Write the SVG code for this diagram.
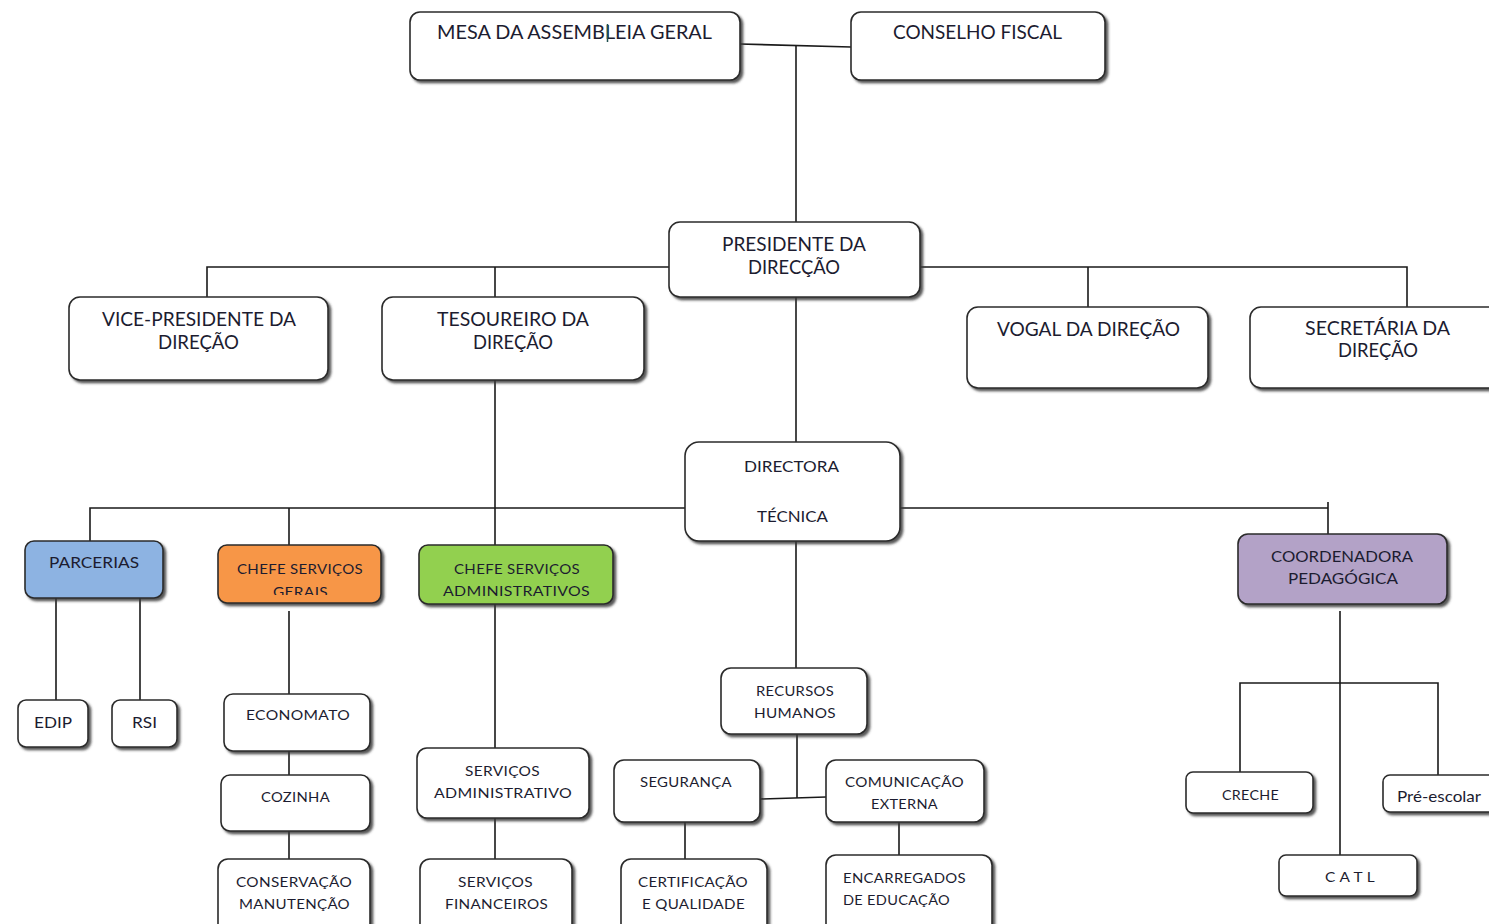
<svg xmlns="http://www.w3.org/2000/svg" width="1489" height="924" viewBox="0 0 1489 924">
<defs>
<filter id="sh" x="-10%" y="-10%" width="125%" height="130%">
<feDropShadow dx="2.5" dy="2.5" stdDeviation="0.9" flood-color="#3a3a3a" flood-opacity="0.85"/>
</filter>
<clipPath id="clipGerais"><rect x="218" y="545" width="164" height="50"/></clipPath>
</defs>
<style>
.box{fill:#ffffff;stroke:#2b2b2b;stroke-width:1.6;filter:url(#sh)}
.sbox{fill:#ffffff;stroke:#2b2b2b;stroke-width:1.6;filter:url(#sh)}
.blue{fill:#8db3e2}
.orange{fill:#f79646}
.green{fill:#92d050}
.purple{fill:#b3a2c7}
.t1{font-family:Lato,"Open Sans","Liberation Sans",sans-serif;font-size:19px;fill:#1c1c30;text-anchor:middle}
.t2{font-family:Lato,"Open Sans","Liberation Sans",sans-serif;font-size:15px;fill:#1c1c30;text-anchor:middle}
.t3{font-family:Lato,"Open Sans","Liberation Sans",sans-serif;font-size:14px;fill:#1c1c30;text-anchor:middle;letter-spacing:0.3px}
.left{text-anchor:start}
.ln{stroke:#1a1a1a;stroke-width:1.6;fill:none}
</style>
<rect width="1489" height="924" fill="#ffffff"/>

<g id="connectors">
<path class="ln" d="M740 44 L851 47" stroke="#555"/>
<path class="ln" d="M796 46 V222"/>
<path class="ln" d="M669 267 H207 V297 M495 267 V297"/>
<path class="ln" d="M920 267 H1407 V307 M1088 267 V307"/>
<path class="ln" d="M796 297 V442"/>
<path class="ln" d="M495 380 V545"/>
<path class="ln" d="M685 508 H90 V541 M289 508 V545"/>
<path class="ln" d="M900 508 H1328 M1328 502 V534"/>
<path class="ln" d="M56 598 V700 M140 598 V700"/>
<path class="ln" d="M289 611 V694 M289 751 V775 M289 831 V859"/>
<path class="ln" d="M495 604 V748 M495 818 V859"/>
<path class="ln" d="M796 541 V668 M797 734 V798"/>
<path class="ln" d="M760 799 L826 797"/>
<path class="ln" d="M685 822 V859 M899 822 V855"/>
<path class="ln" d="M1340 611 V855 M1240 772 V683 H1438 V775"/>
</g>

<g id="mesa">
<rect class="box" x="410" y="12" width="330" height="68" rx="10"/>
<text class="t1" x="574.5" y="39" textLength="275" lengthAdjust="spacingAndGlyphs">MESA DA ASSEMBLEIA GERAL</text>
<line x1="607.5" y1="24" x2="607.5" y2="42" stroke="#1f4f4f" stroke-width="1.5"/>
</g>
<g id="conselho">
<rect class="box" x="851" y="12" width="254" height="68" rx="10"/>
<text class="t1" x="977.5" y="39" textLength="169" lengthAdjust="spacingAndGlyphs">CONSELHO FISCAL</text>
</g>
<g id="presidente">
<rect class="box" x="669" y="222" width="251" height="75" rx="11"/>
<text class="t1" x="794" y="251" textLength="144" lengthAdjust="spacingAndGlyphs">PRESIDENTE DA</text>
<text class="t1" x="794" y="274" textLength="92" lengthAdjust="spacingAndGlyphs">DIRECÇÃO</text>
</g>
<g id="vice">
<rect class="box" x="69" y="297" width="259" height="83" rx="11"/>
<text class="t1" x="199" y="326" textLength="194" lengthAdjust="spacingAndGlyphs">VICE-PRESIDENTE DA</text>
<text class="t1" x="198.5" y="349" textLength="81" lengthAdjust="spacingAndGlyphs">DIREÇÃO</text>
</g>
<g id="tesoureiro">
<rect class="box" x="382" y="297" width="262" height="83" rx="11"/>
<text class="t1" x="513" y="326" textLength="152" lengthAdjust="spacingAndGlyphs">TESOUREIRO DA</text>
<text class="t1" x="513" y="349" textLength="80" lengthAdjust="spacingAndGlyphs">DIREÇÃO</text>
</g>
<g id="vogal">
<rect class="box" x="967" y="307" width="241" height="81" rx="11"/>
<text class="t1" x="1088.5" y="336" textLength="183" lengthAdjust="spacingAndGlyphs">VOGAL DA DIREÇÃO</text>
</g>
<g id="secretaria">
<rect class="box" x="1250" y="307" width="260" height="81" rx="11"/>
<text class="t1" x="1377.5" y="335" textLength="145" lengthAdjust="spacingAndGlyphs">SECRETÁRIA DA</text>
<text class="t1" x="1378" y="357" textLength="80" lengthAdjust="spacingAndGlyphs">DIREÇÃO</text>
</g>
<g id="directora">
<rect class="box" x="685" y="442" width="215" height="99" rx="14"/>
<text class="t2" x="791.5" y="472" textLength="95" lengthAdjust="spacingAndGlyphs">DIRECTORA</text>
<text class="t2" x="792.5" y="522" textLength="71" lengthAdjust="spacingAndGlyphs">TÉCNICA</text>
</g>
<g id="parcerias">
<rect class="box blue" x="25" y="541" width="138" height="57" rx="9"/>
<text class="t2" x="94" y="568" textLength="90" lengthAdjust="spacingAndGlyphs">PARCERIAS</text>
</g>
<g id="chefe-gerais">
<rect class="box orange" x="218" y="545" width="163" height="58" rx="9"/>
<text class="t3" x="300" y="574" textLength="126" lengthAdjust="spacingAndGlyphs">CHEFE SERVIÇOS</text>
<text class="t3" x="300.5" y="597" textLength="55" lengthAdjust="spacingAndGlyphs" clip-path="url(#clipGerais)">GERAIS</text>
</g>
<g id="chefe-admin">
<rect class="box green" x="419" y="545" width="194" height="59" rx="9"/>
<text class="t3" x="517" y="574" textLength="126" lengthAdjust="spacingAndGlyphs">CHEFE SERVIÇOS</text>
<text class="t3" x="516.5" y="596" textLength="147" lengthAdjust="spacingAndGlyphs">ADMINISTRATIVOS</text>
</g>
<g id="coordenadora">
<rect class="box purple" x="1238" y="534" width="209" height="70" rx="10"/>
<text class="t2" x="1342" y="562" textLength="142" lengthAdjust="spacingAndGlyphs">COORDENADORA</text>
<text class="t2" x="1343" y="584" textLength="110" lengthAdjust="spacingAndGlyphs">PEDAGÓGICA</text>
</g>
<g id="edip">
<rect class="sbox" x="18" y="700" width="70" height="47" rx="8"/>
<text class="t2" x="53" y="728" textLength="38" lengthAdjust="spacingAndGlyphs">EDIP</text>
</g>
<g id="rsi">
<rect class="sbox" x="112" y="700" width="65" height="47" rx="8"/>
<text class="t2" x="144.5" y="728" textLength="25" lengthAdjust="spacingAndGlyphs">RSI</text>
</g>
<g id="economato">
<rect class="sbox" x="224" y="694" width="146" height="57" rx="9"/>
<text class="t3" x="298" y="720" textLength="104" lengthAdjust="spacingAndGlyphs">ECONOMATO</text>
</g>
<g id="cozinha">
<rect class="sbox" x="221" y="775" width="149" height="56" rx="9"/>
<text class="t3" x="295.5" y="802" textLength="69" lengthAdjust="spacingAndGlyphs">COZINHA</text>
</g>
<g id="conservacao">
<rect class="sbox" x="218" y="859" width="152" height="75" rx="10"/>
<text class="t3" x="294" y="887" textLength="116" lengthAdjust="spacingAndGlyphs">CONSERVAÇÃO</text>
<text class="t3" x="294.5" y="909" textLength="111" lengthAdjust="spacingAndGlyphs">MANUTENÇÃO</text>
</g>
<g id="serv-admin">
<rect class="sbox" x="417" y="748" width="172" height="70" rx="10"/>
<text class="t3" x="502.5" y="776" textLength="75" lengthAdjust="spacingAndGlyphs">SERVIÇOS</text>
<text class="t3" x="503" y="798" textLength="138" lengthAdjust="spacingAndGlyphs">ADMINISTRATIVO</text>
</g>
<g id="serv-fin">
<rect class="sbox" x="420" y="859" width="152" height="75" rx="10"/>
<text class="t3" x="495.5" y="887" textLength="75" lengthAdjust="spacingAndGlyphs">SERVIÇOS</text>
<text class="t3" x="496.5" y="909" textLength="103" lengthAdjust="spacingAndGlyphs">FINANCEIROS</text>
</g>
<g id="recursos">
<rect class="sbox" x="721" y="668" width="146" height="66" rx="10"/>
<text class="t3" x="795" y="696" textLength="78" lengthAdjust="spacingAndGlyphs">RECURSOS</text>
<text class="t3" x="795" y="718" textLength="82" lengthAdjust="spacingAndGlyphs">HUMANOS</text>
</g>
<g id="seguranca">
<rect class="sbox" x="614" y="760" width="146" height="62" rx="10"/>
<text class="t3" x="686" y="787" textLength="92" lengthAdjust="spacingAndGlyphs">SEGURANÇA</text>
</g>
<g id="comunicacao">
<rect class="sbox" x="826" y="760" width="158" height="62" rx="10"/>
<text class="t3" x="904.5" y="787" textLength="119" lengthAdjust="spacingAndGlyphs">COMUNICAÇÃO</text>
<text class="t3" x="904.5" y="809" textLength="67" lengthAdjust="spacingAndGlyphs">EXTERNA</text>
</g>
<g id="certificacao">
<rect class="sbox" x="621" y="859" width="146" height="75" rx="10"/>
<text class="t3" x="693" y="887" textLength="110" lengthAdjust="spacingAndGlyphs">CERTIFICAÇÃO</text>
<text class="t3" x="693.5" y="909" textLength="103" lengthAdjust="spacingAndGlyphs">E QUALIDADE</text>
</g>
<g id="encarregados">
<rect class="sbox" x="826" y="855" width="166" height="79" rx="10"/>
<text class="t3 left" x="843" y="883" textLength="123" lengthAdjust="spacingAndGlyphs">ENCARREGADOS</text>
<text class="t3 left" x="843" y="905" textLength="107" lengthAdjust="spacingAndGlyphs">DE EDUCAÇÃO</text>
</g>
<g id="creche">
<rect class="sbox" x="1186" y="772" width="127" height="41" rx="7"/>
<text class="t3" x="1250.5" y="800" textLength="57" lengthAdjust="spacingAndGlyphs">CRECHE</text>
</g>
<g id="pre-escolar">
<rect class="sbox" x="1383" y="775" width="127" height="37" rx="7"/>
<text class="t2 left" x="1397" y="802" textLength="84" lengthAdjust="spacingAndGlyphs">Pré-escolar</text>
</g>
<g id="catl">
<rect class="sbox" x="1279" y="855" width="138" height="41" rx="7"/>
<text class="t3" x="1350" y="882" textLength="50" lengthAdjust="spacingAndGlyphs">C A T L</text>
</g>
</svg>
